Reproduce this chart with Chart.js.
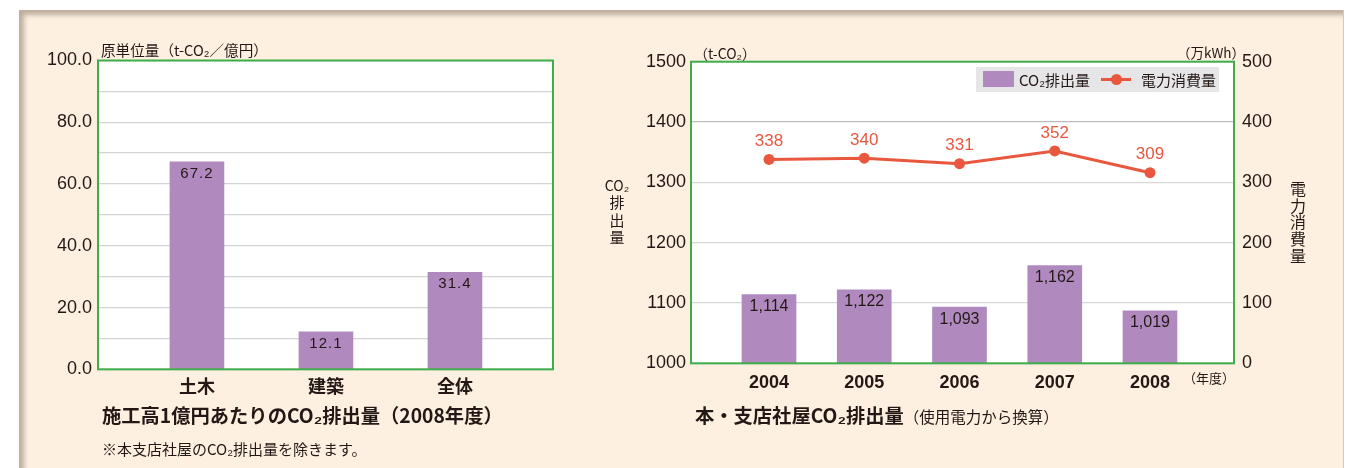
<!DOCTYPE html>
<html><head><meta charset="utf-8">
<script src="https://cdn.jsdelivr.net/npm/chart.js@4.4.1/dist/chart.umd.min.js"></script>
<style>
html,body{margin:0;padding:0;background:#fff;}
body{width:1353px;height:468px;position:relative;overflow:hidden;font-family:"Noto Sans CJK JP","Liberation Sans",sans-serif;color:#231815;}
#panel{position:absolute;left:19px;top:10px;width:1324px;height:470px;background:#fdf0e1;box-shadow:inset 6px 6px 5px -1px rgba(140,120,100,0.55);border-right:1px solid #d3cbc2;}
canvas{position:absolute;top:0;}
.t{position:absolute;white-space:nowrap;line-height:1;}
.vt{position:absolute;text-align:center;}
.leg{position:absolute;left:976px;top:67px;width:243px;height:25px;background:#e6e6e8;}
.leg span{position:absolute;top:5px;font-size:15px;line-height:15px;}
</style></head><body>
<div id="panel"></div>
<canvas id="c1" width="600" height="468" style="left:0"></canvas>
<canvas id="c2" width="753" height="468" style="left:600px"></canvas>

<div class="t" style="left:101px;top:42.5px;font-size:14.6px;">原単位量（t-CO₂／億円）</div>
<div class="t" style="left:102px;top:406px;font-size:19.3px;font-weight:bold;">施工高1億円あたりのCO₂排出量（2008年度）</div>
<div class="t" style="left:102px;top:441px;font-size:15px;">※本支店社屋のCO₂排出量を除きます。</div>

<div class="t" style="left:694px;top:45.5px;font-size:14px;">（t-CO₂）</div>
<div class="t" style="left:1177px;top:46px;font-size:13.5px;">（万kWh）</div>
<div class="t" style="left:1183px;top:371px;font-size:13px;">（年度）</div>
<div class="t" style="left:695px;top:406px;"><span style="font-size:19.3px;font-weight:bold;">本・支店社屋CO₂排出量</span><span style="font-size:15.5px;">（使用電力から換算）</span></div>

<div class="vt" style="left:603px;top:177px;width:28px;"><div style="font-size:14px;line-height:16px;">CO₂</div><div style="font-size:15px;line-height:17.5px;">排<br>出<br>量</div></div>
<div class="vt" style="left:1287px;top:180px;width:22px;font-size:16px;line-height:16.7px;">電<br>力<br>消<br>費<br>量</div>

<div class="leg">
  <div style="position:absolute;left:7px;top:4px;width:31px;height:16px;background:#b08abf;"></div>
  <span style="left:43px;">CO₂排出量</span>
  <div style="position:absolute;left:125px;top:11px;width:30px;height:3px;background:#e9573f;"></div>
  <div style="position:absolute;left:135px;top:7px;width:11px;height:11px;border-radius:50%;background:#e9573f;"></div>
  <span style="left:165px;">電力消費量</span>
</div>

<script>
// ---- Left chart data ----
const unitCategories = ['土木', '建築', '全体'];
const unitValues = [67.2, 12.1, 31.4];
const unitLabels = ['67.2', '12.1', '31.4'];

// ---- Right chart data ----
const years = ['2004', '2005', '2006', '2007', '2008'];
const co2Values = [1114, 1122, 1093, 1162, 1087];      // bar heights as drawn in the picture
const co2Labels = ['1,114', '1,122', '1,093', '1,162', '1,019'];   // printed values
const powerValues = [338, 340, 331, 352, 316];          // point heights as drawn
const powerLabels = ['338', '340', '331', '352', '309']; // printed values

const INK = '#231815';
const PURPLE = '#b08abf';
const ORANGE = '#e9573f';
const GREEN = '#3fae4a';
const NUM_FONT = '"Liberation Sans", Arial, sans-serif';
const CJK_FONT = '"Noto Sans CJK JP", sans-serif';

Chart.defaults.animation = false;
Chart.defaults.color = INK;

const framePlugin = {
  id: 'frame',
  beforeDraw(chart) {
    const a = chart.chartArea, c = chart.ctx;
    c.save(); c.fillStyle = '#ffffff';
    c.fillRect(a.left, a.top, a.right - a.left, a.bottom - a.top);
    c.restore();
  },
  afterDatasetsDraw(chart) {
    const a = chart.chartArea, c = chart.ctx;
    c.save(); c.strokeStyle = GREEN; c.lineWidth = 2;
    c.strokeRect(a.left, a.top, a.right - a.left, a.bottom - a.top);
    c.restore();
  }
};

function labelPlugin(specs) {
  return {
    id: 'valueLabels',
    afterDraw(chart) {
      const c = chart.ctx;
      specs.forEach(s => {
        const meta = chart.getDatasetMeta(s.dataset);
        c.save();
        c.font = s.font; c.fillStyle = s.color;
        c.textAlign = 'center'; c.textBaseline = 'middle';
        if (s.spacing) c.letterSpacing = s.spacing;
        meta.data.forEach((el, i) => c.fillText(s.labels[i], el.x, el.y + s.dy));
        c.restore();
      });
    }
  };
}

// ---- Left chart ----
new Chart(document.getElementById('c1'), {
  type: 'bar',
  data: {
    datasets: [{
      data: unitValues.map((v, i) => ({ x: i, y: v })),
      backgroundColor: PURPLE,
      barThickness: 54
    }]
  },
  options: {
    responsive: false,
    layout: { padding: { top: 60.5, right: 47, left: 0, bottom: 0 } },
    plugins: { legend: { display: false }, tooltip: { enabled: false } },
    scales: {
      x: {
        type: 'linear', min: -0.767, max: 2.76, offset: false,
        afterBuildTicks(s) { s.ticks = unitCategories.map((_, i) => ({ value: i })); },
        afterFit(s) { s.height = 98.7; },
        grid: { display: false, drawTicks: false },
        border: { display: false },
        ticks: { autoSkip: false, maxRotation: 0, padding: 6, color: INK,
          font: { family: CJK_FONT, size: 18, weight: 'bold' },
          callback: v => unitCategories[v] }
      },
      y: {
        min: 0, max: 100,
        afterFit(s) { s.width = 98; },
        grid: { color: '#d3d3d3', lineWidth: 1.3, drawTicks: false },
        border: { display: false },
        ticks: { stepSize: 10, padding: 6, color: INK,
          font: { family: NUM_FONT, size: 18 },
          callback: v => (v % 20 === 0 ? v.toFixed(1) : '') }
      }
    }
  },
  plugins: [framePlugin, labelPlugin([
    { dataset: 0, labels: unitLabels, dy: 12, color: INK, font: '15px ' + NUM_FONT, spacing: '1px' }
  ])]
});

// ---- Right chart ----
new Chart(document.getElementById('c2'), {
  type: 'bar',
  data: {
    datasets: [
      {
        type: 'line',
        data: powerValues.map((v, i) => ({ x: i, y: v })),
        yAxisID: 'y1',
        borderColor: ORANGE, backgroundColor: ORANGE,
        borderWidth: 3, pointRadius: 5.5, pointBorderWidth: 0,
        pointBackgroundColor: ORANGE, tension: 0, order: 0
      },
      {
        type: 'bar',
        data: co2Values.map((v, i) => ({ x: i, y: v })),
        yAxisID: 'y',
        backgroundColor: PURPLE, barThickness: 54, order: 1
      }
    ]
  },
  options: {
    responsive: false,
    layout: { padding: { top: 61.7, right: 0, left: 0, bottom: 0 } },
    plugins: { legend: { display: false }, tooltip: { enabled: false } },
    scales: {
      x: {
        type: 'linear', min: -0.819, max: 4.882, offset: false,
        afterBuildTicks(s) { s.ticks = years.map((_, i) => ({ value: i })); },
        afterFit(s) { s.height = 104.7; },
        grid: { display: false, drawTicks: false },
        border: { display: false },
        ticks: { autoSkip: false, maxRotation: 0, padding: 9, color: INK,
          font: { family: NUM_FONT, size: 18, weight: 'bold' },
          callback: v => years[v] }
      },
      y: {
        position: 'left', min: 1000, max: 1500,
        afterFit(s) { s.width = 91; },
        grid: { color: ctx => (ctx.tick && ctx.tick.value === 1400 ? '#bdbdbd' : '#d6d6d6'), lineWidth: 1.3, drawTicks: false },
        border: { display: false },
        ticks: { stepSize: 100, padding: 5, color: INK,
          font: { family: NUM_FONT, size: 18 },
          callback: v => String(v) }
      },
      y1: {
        position: 'right', min: 0, max: 500,
        afterFit(s) { s.width = 119; },
        grid: { display: false, drawTicks: false },
        border: { display: false },
        ticks: { stepSize: 100, padding: 8, color: INK,
          font: { family: NUM_FONT, size: 18 },
          callback: v => String(v) }
      }
    }
  },
  plugins: [framePlugin, labelPlugin([
    { dataset: 1, labels: co2Labels, dy: 12, color: INK, font: '16px ' + NUM_FONT },
    { dataset: 0, labels: powerLabels, dy: -18, color: ORANGE, font: '17px ' + NUM_FONT }
  ])]
});
</script>
</body></html>
